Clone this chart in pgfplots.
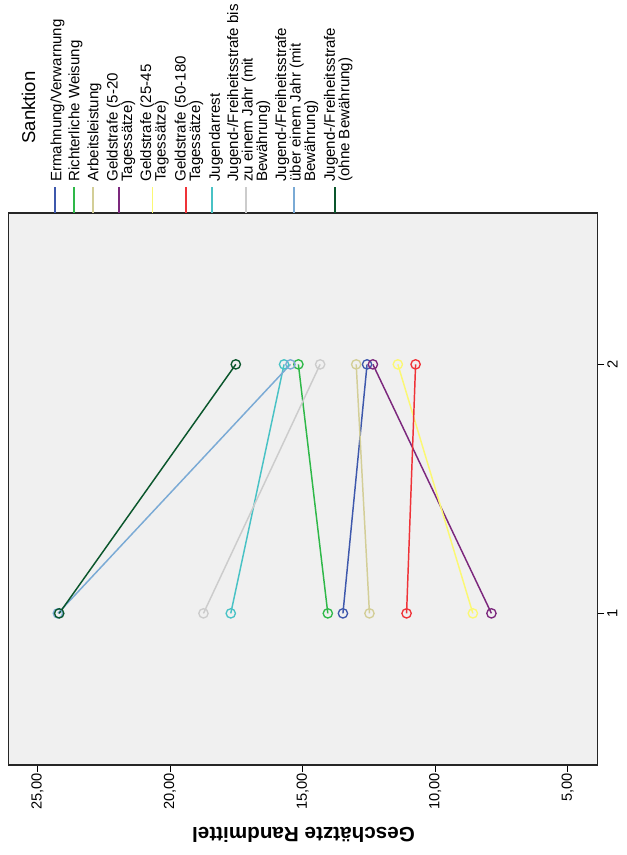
\documentclass[border=0pt]{standalone}
\usepackage{pgfplots}
\pgfplotsset{compat=1.18}
\usepackage{fontspec}
\setmainfont{Liberation Sans}
\definecolor{cA}{RGB}{62,88,172}
\definecolor{cB}{RGB}{46,184,72}
\definecolor{cC}{RGB}{211,206,151}
\definecolor{cD}{RGB}{124,40,125}
\definecolor{cE}{RGB}{251,248,115}
\definecolor{cF}{RGB}{239,51,56}
\definecolor{cG}{RGB}{72,194,197}
\definecolor{cH}{RGB}{204,204,204}
\definecolor{cI}{RGB}{122,170,213}
\definecolor{cJ}{RGB}{10,86,44}
\definecolor{bg}{RGB}{240,240,240}
\begin{document}
\begin{tikzpicture}[x=0.75pt,y=0.75pt]
\path (-8.3,-90) rectangle (618.7,765);
\begin{axis}[
  at={(0,0)}, anchor=south west,
  scale only axis, width=442.1pt, height=414pt,
  xmin=3.87, xmax=26.1, x dir=reverse,
  ymin=0.391, ymax=2.608,
  axis background/.style={fill=bg},
  axis line style={line width=0.9pt, black!85},
  xtick={5,10,15,20,25},
  xticklabels={{5,00},{10,00},{15,00},{20,00},{25,00}},
  ytick={1,2}, yticklabels={1,2},
  xtick pos=bottom, ytick pos=right, yticklabel pos=right,
  tick align=outside, major tick length=5pt,
  tick style={line width=0.8pt, black},
  xticklabel style={rotate=90, anchor=east, font=\fontsize{11}{13}\selectfont, inner sep=1pt},
  yticklabel style={rotate=90, anchor=north, font=\fontsize{11}{13}\selectfont, inner sep=2pt},
  clip=false,
  every axis plot/.append style={line width=1.1pt, mark=o, mark size=3.5pt, mark options={solid, line width=1.0pt}},
]
\addplot[cA] coordinates {(13.48,1) (12.57,2)};
\addplot[cB] coordinates {(14.05,1) (15.16,2)};
\addplot[cC] coordinates {(12.48,1) (12.98,2)};
\addplot[cD] coordinates {(7.88,1) (12.35,2)};
\addplot[cE] coordinates {(8.58,1) (11.41,2)};
\addplot[cF] coordinates {(11.08,1) (10.74,2)};
\addplot[cG] coordinates {(17.71,1) (15.70,2)};
\addplot[cH] coordinates {(18.74,1) (14.34,2)};
\addplot[cI] coordinates {(24.23,1) (15.46,2)};
\addplot[cJ] coordinates {(24.18,1) (17.52,2)};
\end{axis}
% axis title
\node[rotate=180, font=\fontsize{15.5}{18}\selectfont\bfseries] at (295.2,-70) {Geschätzte Randmittel};
% legend
\node[rotate=90, font=\fontsize{13.9}{16}\selectfont] at (20.2,657.5) {Sanktion};
\begin{scope}[every node/.style={rotate=90, anchor=west, align=left, inner sep=0pt, font=\fontsize{11.3}{10.9}\selectfont}]
\foreach \lx/\tx/\col/\txt in {
  46.7/49.2/cA/{Ermahnung/Verwarnung},
  65.7/67.2/cB/{Richterliche Weisung},
  84.4/86.2/cC/{Arbeitsleistung},
  110.4/112.7/cD/{Geldstrafe (5-20\\Tagessätze)},
  144/146.2/cE/{Geldstrafe (25-45\\Tagessätze)},
  177.7/180.7/cF/{Geldstrafe (50-180\\Tagessätze)},
  203.4/207.7/cG/{Jugendarrest},
  237.4/240.4/cH/{Jugend-/Freiheitsstrafe bis\\zu einem Jahr (mit\\Bewährung)},
  285.7/288.4/cI/{Jugend-/Freiheitsstrafe\\über einem Jahr (mit\\Bewährung)},
  326.7/330/cJ/{Jugend-/Freiheitsstrafe\\(ohne Bewährung)}}{
  \draw[\col, line width=1.2pt] (\lx,552) -- (\lx,578);
  \node at (\tx,583) {\txt};
}
\end{scope}
\end{tikzpicture}
\end{document}
